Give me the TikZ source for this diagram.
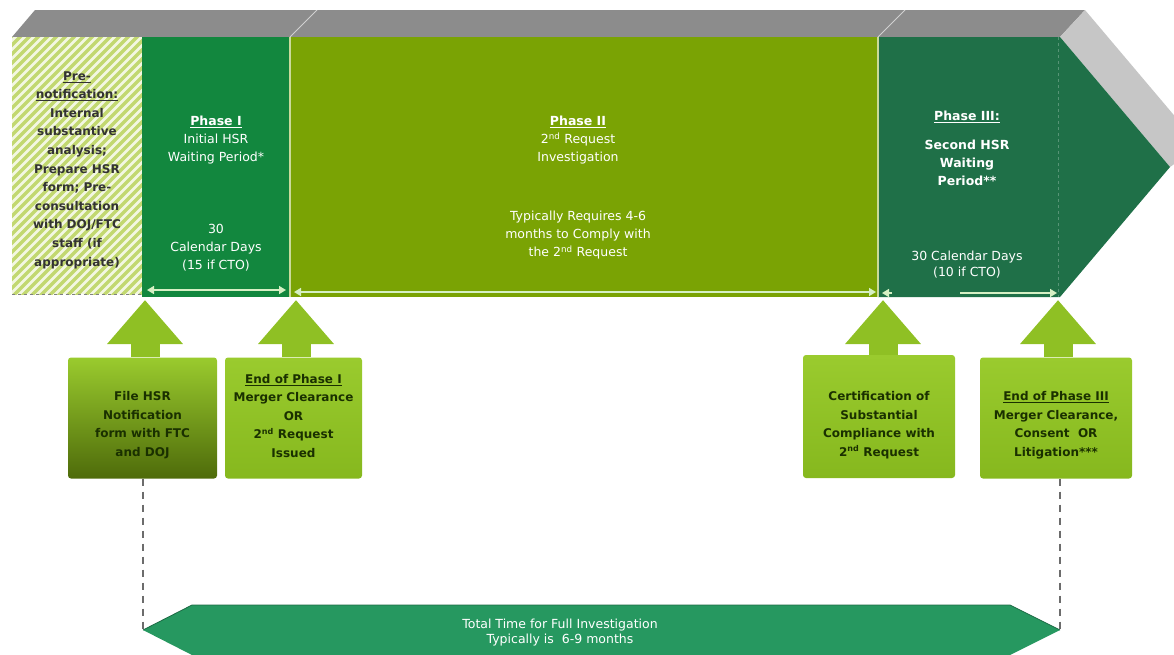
\documentclass[tikz,border=0pt]{standalone}
\usepackage{fontspec}
\setmainfont{DejaVu Sans}
\usetikzlibrary{arrows.meta,calc}
\definecolor{phaseOne}{HTML}{12873E}
\definecolor{phaseTwo}{HTML}{7AA304}
\definecolor{phaseThree}{HTML}{1F7048}
\definecolor{topGray}{HTML}{8C8C8C}
\definecolor{sideGray}{HTML}{C6C6C6}
\definecolor{hatchLime}{HTML}{C2D870}
\definecolor{hatchPale}{HTML}{F3F7E2}
\definecolor{callTop}{HTML}{9ACB2E}
\definecolor{callBot}{HTML}{86B81E}
\definecolor{callArr}{HTML}{8FC024}
\definecolor{fileBot}{HTML}{4E6B0A}
\definecolor{callInk}{HTML}{1A3000}
\definecolor{spanC}{HTML}{D6F0C4}
\definecolor{totalC}{HTML}{269860}
\tikzset{
  phasetext/.style={text=white, align=center, font=\fontsize{12.5}{18}\selectfont},
  pretext/.style={text=black!80, align=center, font=\bfseries\fontsize{12}{18.6}\selectfont},
  calltext/.style={text=callInk, align=center, font=\bfseries\fontsize{12}{18.5}\selectfont},
  callbox/.style={rounded corners=3pt, top color=callTop, bottom color=callBot, minimum height=121pt, inner sep=0pt},
  callarrow/.style={draw=callArr, line width=29pt, -{Triangle[width=73pt,length=44pt]}},
  spanarrow/.style={draw=spanC, line width=1.6pt},
  guide/.style={draw=gray!85!black, dash pattern=on 7pt off 6pt, line width=1.4pt}
}
\begin{document}
\begin{tikzpicture}[x=1pt,y=-1pt]
  \useasboundingbox (0,0) rectangle (1174,654);
  % top and side faces of the band
  \fill[topGray] (12,37) -- (35,10) -- (1085,10) -- (1060,37) -- cycle;
  \begin{scope}
    \clip (0,0) rectangle (1174,654);
    \fill[sideGray] (1060,37) -- (1085,10) -- (1200,146) -- (1170,167) -- cycle;
  \end{scope}
  \draw[white, opacity=.6, line width=1pt] (290,37) -- (317,10);
  \draw[white, opacity=.6, line width=1pt] (878,37) -- (905,10);
  % pre-notification, hatched
  \fill[hatchPale] (12,37) rectangle (142,294);
  \begin{scope}
    \clip (12,37) rectangle (142,294);
    \foreach \k in {-270,-261,...,150}
      \draw[hatchLime, line width=3.4pt] (\k,300) -- ++(270,-270);
  \end{scope}
  \draw[gray, dashed] (12,294) -- (142,294);
  % the three phases
  \fill[phaseOne] (142,37) rectangle (290,297);
  \fill[phaseTwo] (290,37) rectangle (878,297);
  \fill[phaseThree] (878,37) -- (1060,37) -- (1170,167) -- (1060,297) -- (878,297) -- cycle;
  \draw[white!60!phaseTwo, line width=1.2pt] (290,37) -- (290,297);
  \draw[white!60!phaseTwo, line width=1.2pt] (878,37) -- (878,297);
  \draw[phaseThree!75!white, dashed] (1058,37) -- (1058,297);
  % texts in the band
  \node[pretext] (preText) at (77,170) {\underline{Pre-}\\\underline{notification:}\\Internal\\substantive\\analysis;\\Prepare HSR\\form; Pre-\\consultation\\with DOJ/FTC\\staff (if\\appropriate)};
  \node[phasetext] (oneHead) at (216,140) {\underline{\textbf{Phase I}}\\Initial HSR\\Waiting Period*};
  \node[phasetext] (oneDays) at (216,248) {30\\Calendar Days\\(15 if CTO)};
  \node[phasetext] (twoHead) at (578,140) {\underline{\textbf{Phase II}}\\2\textsuperscript{nd} Request\\Investigation};
  \node[phasetext] (twoTime) at (578,235) {Typically Requires 4-6\\months to Comply with\\the 2\textsuperscript{nd} Request};
  \node[phasetext] (threeHead) at (967,117) {\underline{\textbf{Phase III:}}};
  \node[phasetext, font=\bfseries\fontsize{12.5}{18}\selectfont] (threeName) at (967,163) {Second HSR\\Waiting\\Period**};
  \node[phasetext, font=\fontsize{12.5}{16}\selectfont] (threeDays) at (967,265) {30 Calendar Days\\(10 if CTO)};
  % spans along the band
  \coordinate (oneL) at (147,290);
  \coordinate (oneR) at (286,290);
  \coordinate (twoL) at (294,292);
  \coordinate (twoR) at (876,292);
  \coordinate (threeL) at (882,293);
  \coordinate (threeM) at (960,293);
  \coordinate (threeR) at (1057,293);
  \draw[spanarrow, {Triangle[width=8pt,length=7pt]}-{Triangle[width=8pt,length=7pt]}] (oneL) -- (oneR);
  \draw[spanarrow, {Triangle[width=8pt,length=7pt]}-{Triangle[width=8pt,length=7pt]}] (twoL) -- (twoR);
  \draw[spanarrow, -{Triangle[width=8pt,length=7pt]}] ($(threeL)+(10,0)$) -- (threeL);
  \draw[spanarrow, -{Triangle[width=8pt,length=7pt]}] (threeM) -- (threeR);
  % callouts
  \node[callbox, minimum width=149pt, bottom color=fileBot] (fileBox) at (142.5,418) {};
  \node[callbox, minimum width=137pt] (endOneBox) at (293.5,418) {};
  \node[callbox, minimum width=152pt, minimum height=123pt] (certBox) at (879,416.5) {};
  \node[callbox, minimum width=152pt] (endThreeBox) at (1056,418) {};
  \node[calltext] (fileText) at (142.5,425) {File HSR\\Notification\\form with FTC\\and DOJ};
  \node[calltext] (endOneText) at (293.5,416) {\underline{End of Phase I}\\Merger Clearance\\OR\\2\textsuperscript{nd} Request\\Issued};
  \node[calltext] (certText) at (879,425) {Certification of\\Substantial\\Compliance with\\2\textsuperscript{nd} Request};
  \node[calltext] (endThreeText) at (1056,425) {\underline{End of Phase III}\\Merger Clearance,\\Consent \ OR\\Litigation***};
  \coordinate (fileTip) at (145,300);
  \coordinate (endOneTip) at (296,300);
  \coordinate (certTip) at (883,300);
  \coordinate (endThreeTip) at (1058,300);
  \draw[callarrow] (fileTip |- fileBox.north) -- (fileTip);
  \draw[callarrow] (endOneTip |- endOneBox.north) -- (endOneTip);
  \draw[callarrow] (certTip |- certBox.north) -- (certTip);
  \draw[callarrow] (endThreeTip |- endThreeBox.north) -- (endThreeTip);
  % total time
  \coordinate (totalL) at (143,630);
  \coordinate (totalR) at (1060,630);
  \draw[guide] (totalL |- fileBox.south) -- (totalL);
  \draw[guide] (totalR |- endThreeBox.south) -- (totalR);
  \fill[totalC] (totalL) -- (192,605) -- (1010,605) -- (totalR) -- (1010,655) -- (192,655) -- cycle;
  \draw[totalC!70!black, line width=.8pt] (totalL) -- (192,605) -- (1010,605) -- (totalR);
  \node[phasetext, font=\fontsize{12.5}{15}\selectfont] (totalText) at (560,633) {Total Time for Full Investigation\\Typically is \ 6-9 months};
\end{tikzpicture}
\end{document}
